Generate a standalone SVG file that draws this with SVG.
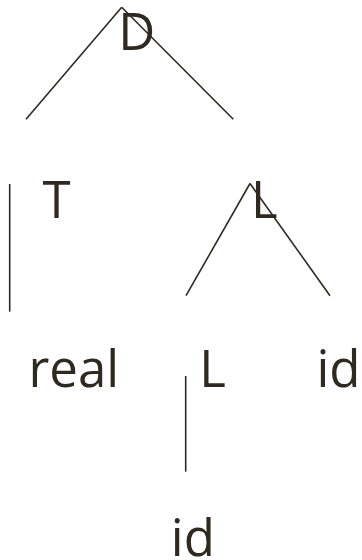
<svg xmlns="http://www.w3.org/2000/svg" width="362" height="560" viewBox="0 0 362 560">
<style>
.t{font-family:"Open Sans","Liberation Sans",sans-serif;font-size:51px;fill:#2e2a22}
.e{stroke:#2e2a22;stroke-width:1.6;fill:none}
</style>
<rect width="362" height="560" fill="#fff"/>
<g id="connectors">
<line class="e" x1="121.7" y1="7.3" x2="26" y2="119.3"/>
<line class="e" x1="121.7" y1="7.3" x2="233.3" y2="119.3"/>
<line class="e" x1="9.7" y1="184" x2="9.7" y2="311.7"/>
<line class="e" x1="250" y1="183.5" x2="186" y2="295.7"/>
<line class="e" x1="250" y1="183.5" x2="330" y2="295.7"/>
<line class="e" x1="185.7" y1="376" x2="185.7" y2="471.7"/>
</g>
<g id="D"><text class="t" x="118.3" y="49.5">D</text></g>
<g id="T"><text class="t" x="42.4" y="218.3">T</text></g>
<g id="L1"><text class="t" x="251" y="218.3">L</text></g>
<g id="real"><text class="t" x="28.5" y="387.3">real</text></g>
<g id="L2"><text class="t" x="199.3" y="387.3">L</text></g>
<g id="id1"><text class="t" x="316.5" y="387">id</text></g>
<g id="id2"><text class="t" x="170.8" y="556">id</text></g>
</svg>
